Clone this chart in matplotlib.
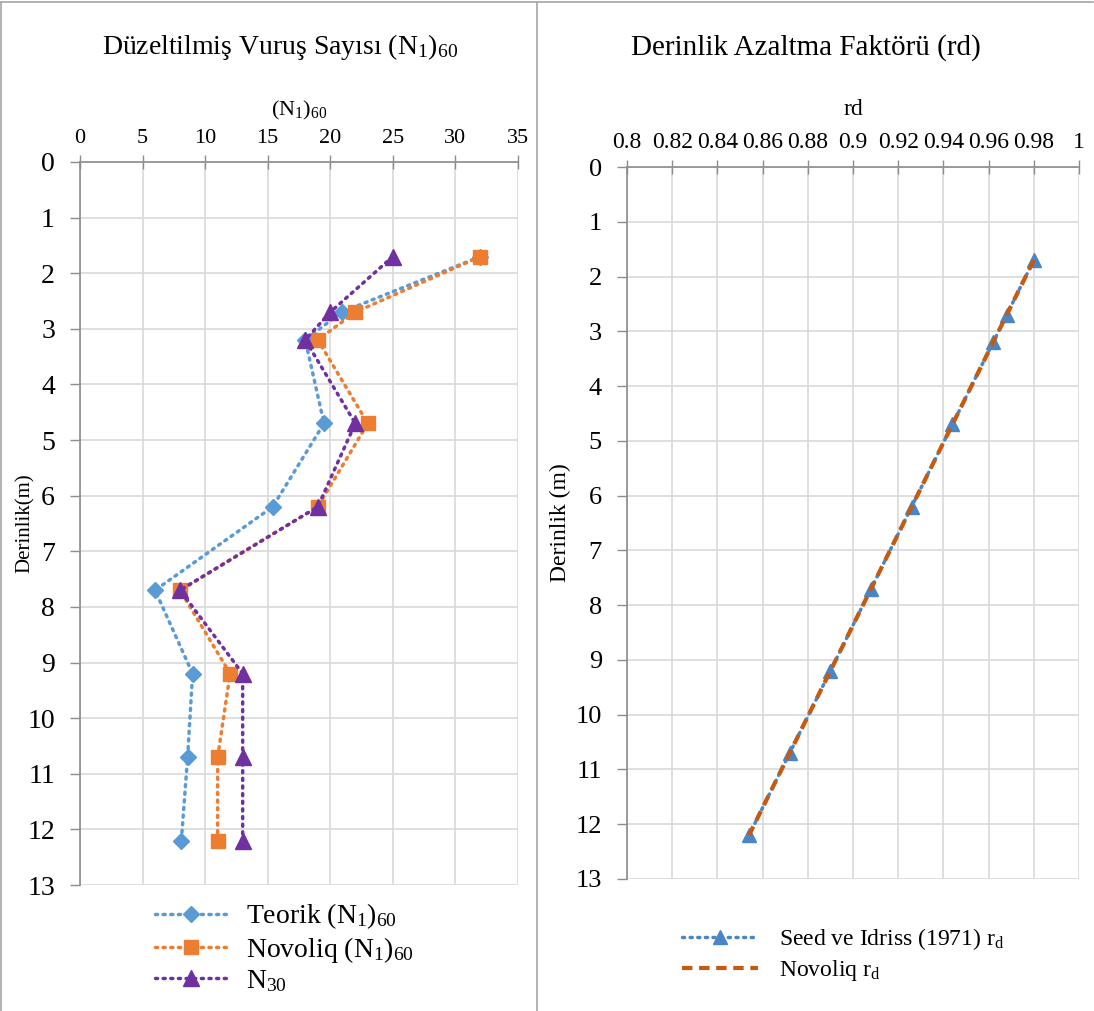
import matplotlib
matplotlib.use('Agg')
import matplotlib.pyplot as plt
from matplotlib.lines import Line2D

plt.rcParams['font.family'] = ['Liberation Serif', 'DejaVu Serif']
plt.rcParams['mathtext.fontset'] = 'custom'
plt.rcParams['mathtext.rm'] = 'Liberation Serif'
plt.rcParams['mathtext.it'] = 'Liberation Serif:italic'

# ── veriler ──────────────────────────────────────────────
depth = [1.7, 2.7, 3.2, 4.7, 6.2, 7.7, 9.2, 10.7, 12.2]

teorik_n160  = [32, 20.9, 18.0, 19.5, 15.4, 6.0, 9.0, 8.6, 8.1]
novoliq_n160 = [32, 22, 19, 23, 19, 8, 12, 11, 11]
n30          = [25, 20, 18, 22, 19, 8, 13, 13, 13]

seed_rd    = [0.980, 0.968, 0.962, 0.944, 0.926, 0.908, 0.890, 0.872, 0.854]
novoliq_rd = [0.980, 0.968, 0.962, 0.944, 0.926, 0.908, 0.890, 0.872, 0.854]

left_xticks  = [0, 5, 10, 15, 20, 25, 30, 35]
right_xticks = [0.8, 0.82, 0.84, 0.86, 0.88, 0.9, 0.92, 0.94, 0.96, 0.98, 1.0]
right_xlabels = ['0.8', '0.82', '0.84', '0.86', '0.88', '0.9', '0.92',
                 '0.94', '0.96', '0.98', '1']
yticks = list(range(0, 14))

GRID = '#d9d9d9'
AXC  = '#8c8c8c'

fig = plt.figure(figsize=(10.94, 10.11), dpi=100)


def style_axes(ax, xlim, xticks, xlabels, xfs, yfs):
    ax.set_xlim(*xlim)
    ax.set_ylim(13, 0)
    ax.xaxis.tick_top()
    ax.set_xticks(xticks)
    ax.set_xticklabels(xlabels, fontsize=xfs)
    ax.set_yticks(yticks)
    ax.set_yticklabels([str(t) for t in yticks], fontsize=yfs)
    ax.grid(True, color=GRID, lw=1.2, zorder=0)
    for s in ['right', 'bottom']:
        ax.spines[s].set_visible(False)
    for s in ['left', 'top']:
        ax.spines[s].set_color(AXC)
        ax.spines[s].set_linewidth(1.2)
    ax.tick_params(axis='x', direction='inout', length=10, color=AXC,
                   width=1.0, pad=5)
    ax.tick_params(axis='y', direction='out', length=7, color=AXC,
                   width=1.0, pad=11)
    ax.set_axisbelow(True)


# ── sol grafik ───────────────────────────────────────────
ax1 = fig.add_axes([0.0731, 0.1246, 0.4004, 0.7152])
style_axes(ax1, (0, 35), left_xticks, [str(t) for t in left_xticks], 16, 20)

ms = dict(lw=2.5, linestyle=(0, (0.6, 1.6)), dash_capstyle='round')
ax1.plot(teorik_n160, depth, color='#5B9BD5', marker='D', ms=8,
         label='Teorik (N$_1$)$_{60}$', **ms)
ax1.plot(novoliq_n160, depth, color='#ED7D31', marker='s', ms=10,
         label='Novoliq (N$_1$)$_{60}$', **ms)
ax1.plot(n30, depth, color='#7030A0', marker='^', ms=11,
         label='N$_{30}$', **ms)

ax1.set_xlabel('(N$_1$)$_{60}$', fontsize=16, labelpad=10)
ax1.xaxis.set_label_position('top')
ax1.set_ylabel('Derinlik(m)', fontsize=15)
ax1.yaxis.set_label_coords(-0.103, 0.5)
ax1.set_title('Düzeltilmiş Vuruş Sayısı (N$_1$)$_{60}$', fontsize=20,
              pad=32, x=0.457)

ax1.legend(loc='upper left', bbox_to_anchor=(0.12, 0.008), frameon=False,
           fontsize=20, handlelength=2.6, handletextpad=0.7,
           labelspacing=0.12, borderpad=0.3)

# ── sag grafik ───────────────────────────────────────────
ax2 = fig.add_axes([0.5731, 0.1306, 0.4132, 0.7042])
style_axes(ax2, (0.8, 1.0), right_xticks, right_xlabels, 17, 19)

ax2.plot(seed_rd, depth, color='#4A86C5', marker='^', ms=10, lw=2.5,
         linestyle=(0, (0.6, 1.6)), dash_capstyle='round',
         label='Seed ve Idriss (1971) r$_\\mathrm{d}$')
ax2.plot(novoliq_rd, depth, color='#C55A11', lw=3, linestyle=(0, (2.5, 1.6)),
         label='Novoliq r$_\\mathrm{d}$')

ax2.set_xlabel('rd', fontsize=17, labelpad=12)
ax2.xaxis.set_label_position('top')
ax2.set_ylabel('Derinlik (m)', fontsize=17)
ax2.yaxis.set_label_coords(-0.124, 0.5)
ax2.set_title('Derinlik Azaltma Faktörü (rd)', fontsize=21, pad=32, x=0.396)

ax2.legend(loc='upper left', bbox_to_anchor=(0.08, -0.04), frameon=False,
           fontsize=17, handlelength=3.2, handletextpad=0.9,
           labelspacing=0.25, borderpad=0.3)

# ── cerceve ──────────────────────────────────────────────
for xs, ys in [([0.001, 0.999], [0.998, 0.998]),
               ([0.001, 0.001], [0.0, 0.998]),
               ([0.491, 0.491], [0.0, 0.998])]:
    fig.add_artist(Line2D(xs, ys, color='#a6a6a6', lw=1.2,
                          transform=fig.transFigure))

fig.savefig('out.png', dpi=100)
